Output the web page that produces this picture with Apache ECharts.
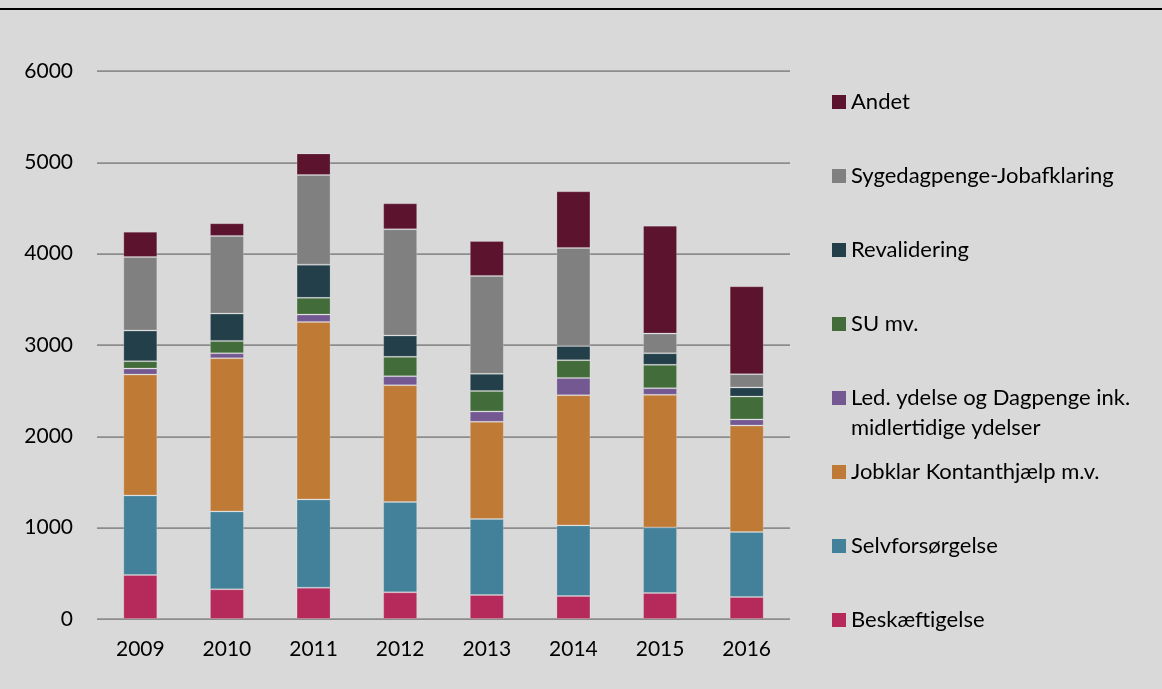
<!DOCTYPE html>
<html>
<head>
<meta charset="utf-8">
<script src="https://cdn.jsdelivr.net/npm/echarts@6/dist/echarts.min.js"></script>
<style>
  html, body { margin: 0; padding: 0; background: #d9d9d9; }
  #chart { width: 1162px; height: 689px; }
</style>
</head>
<body>
<div id="chart"></div>
<script>
const years = ['2009', '2010', '2011', '2012', '2013', '2014', '2015', '2016'];

// stacked from the bottom up
const beskaeftigelse = [481, 325, 343, 292, 263, 252, 284, 241];
const selvforsorgelse = [872, 853, 966, 988, 831, 773, 719, 711];
const jobklar = [1324, 1678, 1944, 1280, 1065, 1426, 1451, 1167];
const ledYdelse = [65, 54, 80, 99, 113, 189, 73, 66];
const suMv = [81, 135, 183, 211, 223, 194, 256, 251];
const revalidering = [335, 299, 364, 234, 189, 156, 127, 99];
const sygedagpenge = [806, 850, 981, 1163, 1072, 1073, 215, 146];
const andet = [277, 139, 237, 284, 383, 620, 1182, 962];

const LED_NAME = 'Led. ydelse og Dagpenge ink. midlertidige ydelser';

const seriesDefs = [
    { name: 'Beskæftigelse', data: beskaeftigelse, color: '#b5295b' },
    { name: 'Selvforsørgelse', data: selvforsorgelse, color: '#428199' },
    { name: 'Jobklar Kontanthjælp m.v.', data: jobklar, color: '#bf7a36' },
    { name: LED_NAME, data: ledYdelse, color: '#735891' },
    { name: 'SU mv.', data: suMv, color: '#426c3a' },
    { name: 'Revalidering', data: revalidering, color: '#223f4a' },
    { name: 'Sygedagpenge-Jobafklaring', data: sygedagpenge, color: '#808080' },
    { name: 'Andet', data: andet, color: '#5b132e' }
];

const font = {
    fontFamily: 'Lato',
    fontSize: 21,
    color: '#000'
};

// one legend per entry so each sits at its own row on the right
const legendRows = [
    { name: 'Andet', center: 102 },
    { name: 'Sygedagpenge-Jobafklaring', center: 176 },
    { name: 'Revalidering', center: 250 },
    { name: 'SU mv.', center: 324 },
    { name: LED_NAME, center: 398 },
    { name: 'Jobklar Kontanthjælp m.v.', center: 472 },
    { name: 'Selvforsørgelse', center: 546 },
    { name: 'Beskæftigelse', center: 620 }
];

const legends = legendRows.map(row => {
    const isLed = row.name === LED_NAME;
    return {
        data: [row.name],
        left: 832,
        top: isLed ? row.center - 45 : row.center - 12,
        padding: 0,
        itemWidth: 14,
        itemHeight: 14,
        icon: 'rect',
        itemStyle: { borderWidth: 0 },
        formatter: name => isLed
            ? '\u00a0\nLed. ydelse og Dagpenge ink.\nmidlertidige ydelser'
            : name,
        textStyle: {
            ...font,
            fontSize: 22,
            lineHeight: isLed ? 30 : 24
        }
    };
});

const chart = echarts.init(document.getElementById('chart'));

const option = {
    backgroundColor: '#d9d9d9',
    animation: false,
    grid: {
        left: 97,
        right: 372,
        top: 71,
        bottom: 70
    },
    graphic: [{
        type: 'rect',
        shape: { x: 0, y: 8, width: 1162, height: 2 },
        style: { fill: '#000' },
        silent: true
    }],
    legend: legends,
    xAxis: {
        type: 'category',
        data: years,
        axisLine: { show: false },
        axisTick: { show: false },
        axisLabel: { ...font, margin: 20 }
    },
    yAxis: {
        type: 'value',
        min: 0,
        max: 6000,
        interval: 1000,
        axisLine: { show: false },
        axisTick: { show: false },
        axisLabel: { ...font, margin: 24, formatter: v => String(v) },
        splitLine: {
            lineStyle: { color: '#8c8c8c', width: 1.75 }
        }
    },
    series: seriesDefs.map(s => ({
        type: 'bar',
        name: s.name,
        stack: 'total',
        data: s.data,
        barWidth: 34,
        itemStyle: {
            color: s.color,
            borderColor: 'rgba(255,255,255,0.2)',
            borderWidth: 1
        },
        emphasis: { disabled: true }
    }))
};

chart.setOption(option);
</script>
</body>
</html>
